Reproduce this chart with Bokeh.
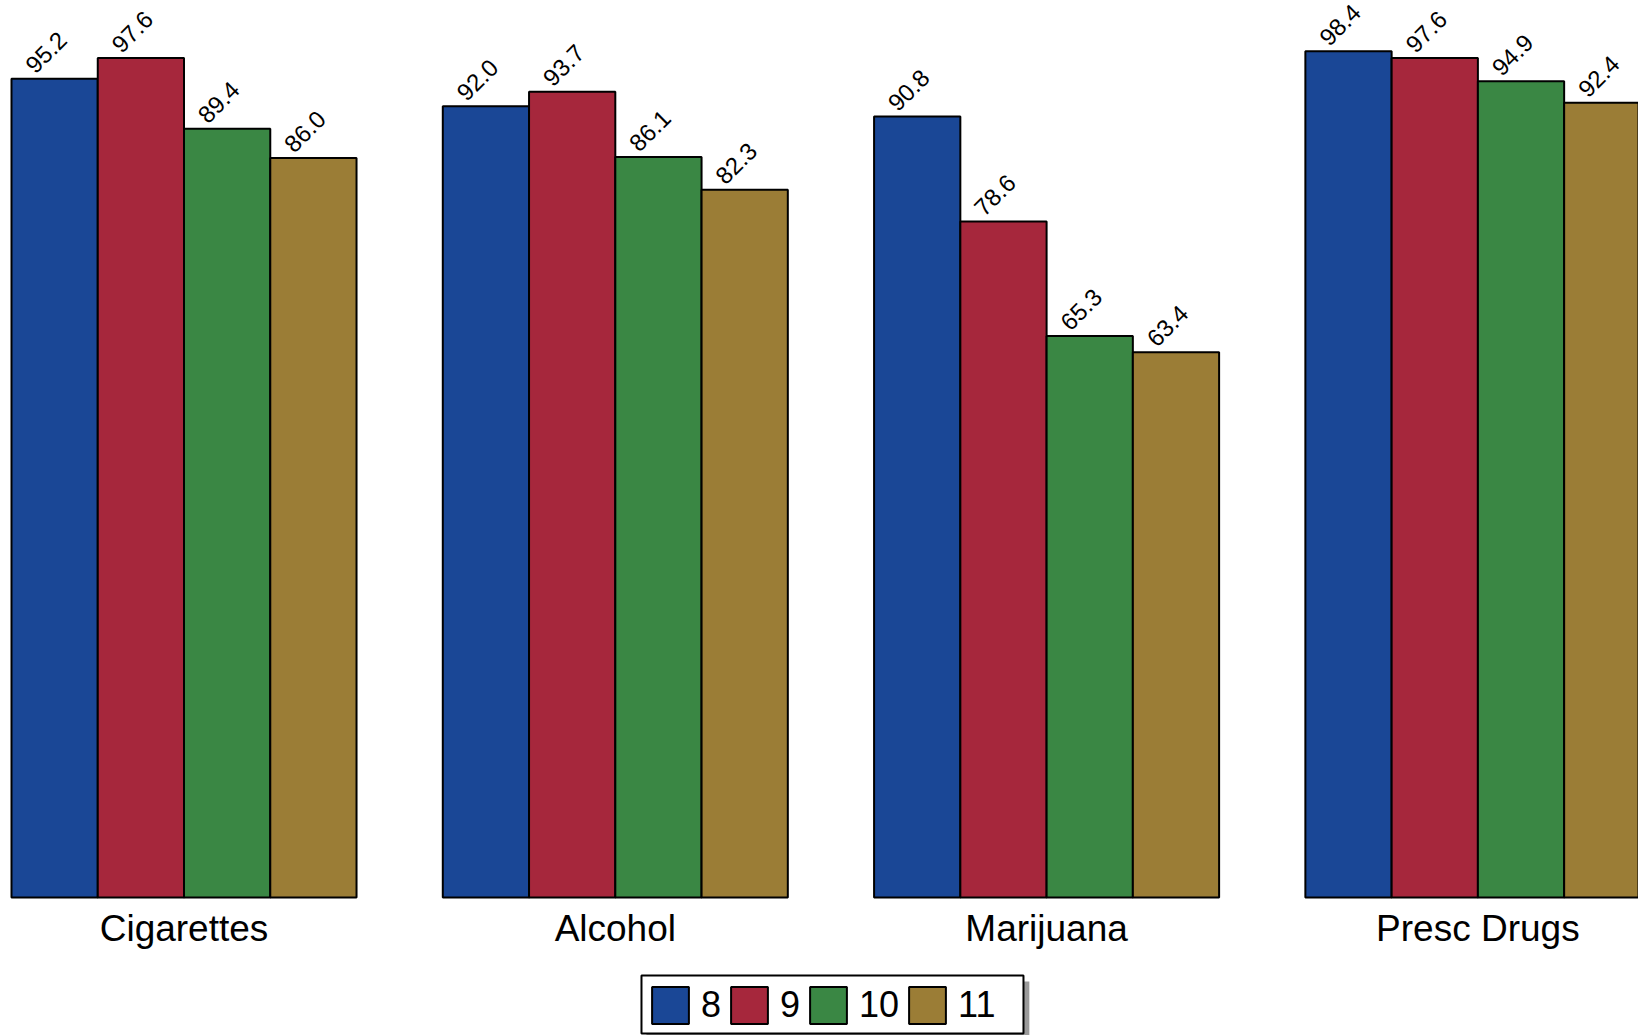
import math
from bokeh.plotting import figure
from bokeh.models import ColumnDataSource, Range1d, Legend, LegendItem
from bokeh.core.properties import value
from bokeh.embed import file_html
from bokeh.resources import INLINE

# ---- data ----
categories = ["Cigarettes", "Alcohol", "Marijuana", "Presc Drugs"]
grades = ["8", "9", "10", "11"]
grade8 = [95.2, 92.0, 90.8, 98.4]
grade9 = [97.6, 93.7, 78.6, 97.6]
grade10 = [89.4, 86.1, 65.3, 94.9]
grade11 = [86.0, 82.3, 63.4, 92.4]
series = [grade8, grade9, grade10, grade11]
colors = ["#1a4796", "#a6273c", "#3a8744", "#9b7d36"]

FONT = "Liberation Sans"

# layout: one bar = 86.26 px, zero line at 897 px, 8.6 px per percent
X0, X1 = -0.1275, 18.862
Y0, Y1 = -16.05, 104.30

p = figure(width=1638, height=1035, output_backend="svg", toolbar_location=None,
           x_range=Range1d(X0, X1), y_range=Range1d(Y0, Y1),
           min_border=0, min_border_left=0, min_border_right=0,
           min_border_top=0, min_border_bottom=0)
p.xaxis.visible = False
p.yaxis.visible = False
p.xgrid.visible = False
p.ygrid.visible = False
p.outline_line_color = None
p.background_fill_color = "white"
p.border_fill_color = "white"

renderers = []
for j, (vals, col) in enumerate(zip(series, colors)):
    xs = [i * 5 + j + 0.5 for i in range(len(categories))]
    src = ColumnDataSource(dict(x=xs, top=vals,
                                left=[x - 0.5 for x in xs],
                                lab=[f"{v:.1f}" for v in vals]))
    r = p.vbar(x="x", top="top", bottom=0, width=1.0, source=src,
               fill_color=col, line_color="black", line_width=2)
    renderers.append(r)
    p.text(x="left", y="top", text="lab", source=src, angle=math.pi / 4,
           x_offset=18, y_offset=-10, text_align="left", text_baseline="alphabetic",
           text_font=value(FONT), text_font_size="24px", text_color="black")

# category labels
cat_src = ColumnDataSource(dict(x=[i * 5 + 2 for i in range(len(categories))],
                                y=[-3.6] * len(categories), t=categories))
p.text(x="x", y="y", text="t", source=cat_src, text_align="center",
       text_baseline="alphabetic", text_font=value(FONT), text_font_size="37px",
       text_color="black")

# legend frame with drop shadow
p.quad(left=[7.361], right=[11.80], top=[-9.77], bottom=[-17.0],
       fill_color="#9a9a9a", line_color=None)
p.quad(left=[7.3035], right=[11.732], top=[-9.07], bottom=[-15.81],
       fill_color="white", line_color="black", line_width=2)

legend = Legend(items=[LegendItem(label=g, renderers=[r]) for g, r in zip(grades, renderers)],
                orientation="horizontal", location=(647, 7),
                glyph_width=46, glyph_height=46, label_standoff=8, spacing=5,
                padding=6, margin=0, label_width=5, label_height=46,
                label_text_font=FONT, label_text_font_size="36px",
                label_text_color="black", label_text_baseline="middle",
                border_line_color=None, background_fill_alpha=0.0)
p.add_layout(legend, "center")

open("out.html", "w").write(file_html(p, INLINE))
